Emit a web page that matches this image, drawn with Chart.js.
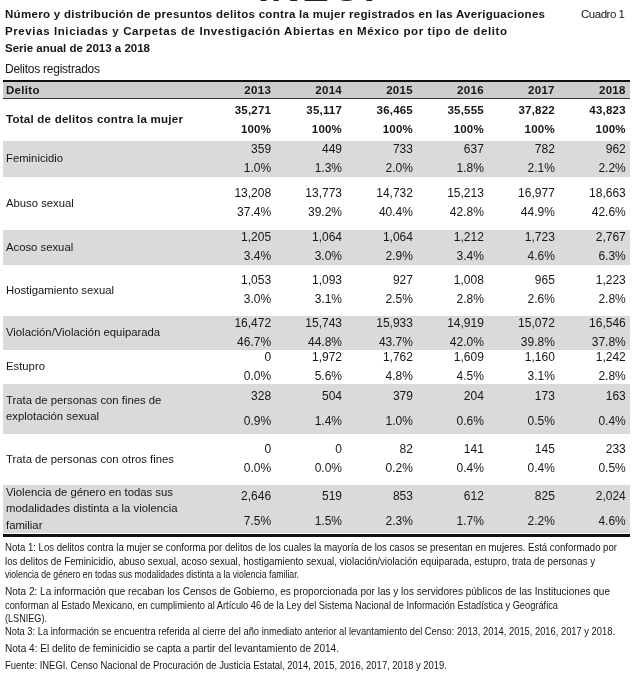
<!DOCTYPE html>
<html><head><meta charset="utf-8">
<script src="https://cdn.jsdelivr.net/npm/chart.js@4.4.1/dist/chart.umd.min.js"></script>
<style>
html,body{margin:0;padding:0;background:#fff;}
#wrap{position:relative;width:640px;height:673px;overflow:hidden;font-family:"Liberation Sans",Arial,sans-serif;color:#161616;}
#chartBox{position:absolute;left:0;top:0;width:640px;height:673px;}
.t{position:absolute;white-space:nowrap;line-height:1;}
.title{font-weight:bold;font-size:11.5px;}
.note{font-size:11px;left:5px;transform-origin:0 50%;}
#logo{left:258px;top:-33px;font-weight:bold;font-size:40px;letter-spacing:2px;color:#222;}
</style></head><body>
<div id="wrap">
<div id="chartBox"><canvas id="c"></canvas></div>
<div class="t" id="logo">INEGI</div>
<div class="t title fit" style="left:5px;top:9px" data-w="540">Número y distribución de presuntos delitos contra la mujer registrados en las Averiguaciones</div>
<div class="t fit" style="left:581px;top:9px;font-size:11.5px" data-w="44">Cuadro 1</div>
<div class="t title fit" style="left:5px;top:26px" data-w="502">Previas Iniciadas y Carpetas de Investigación Abiertas en México por tipo de delito</div>
<div class="t title fit" style="left:5px;top:43px" data-w="145">Serie anual de 2013 a 2018</div>
<div class="t fit" style="left:5px;top:63px;font-size:12px" data-w="95">Delitos registrados</div>
<div class="t note sx" style="top:542px" data-w="612">Nota 1: Los delitos contra la mujer se conforma por delitos de los cuales la mayoría de los casos se presentan en mujeres. Está conformado por</div>
<div class="t note sx" style="top:556px" data-w="590">los delitos de Feminicidio, abuso sexual, acoso sexual, hostigamiento sexual, violación/violación equiparada, estupro, trata de personas y</div>
<div class="t note sx" style="top:569px" data-w="294">violencia de género en todas sus modalidades distinta a la violencia familiar.</div>
<div class="t note sx" style="top:586px" data-w="605">Nota 2: La información que recaban los Censos de Gobierno, es proporcionada por las y los servidores públicos de las Instituciones que</div>
<div class="t note sx" style="top:600px" data-w="553">conforman al Estado Mexicano, en cumplimiento al Artículo 46 de la Ley del Sistema Nacional de Información Estadística y Geográfica</div>
<div class="t note sx" style="top:613px" data-w="42">(LSNIEG).</div>
<div class="t note sx" style="top:626px" data-w="610">Nota 3: La información se encuentra referida al cierre del año inmediato anterior al levantamiento del Censo:  2013, 2014, 2015, 2016, 2017 y 2018.</div>
<div class="t note sx" style="top:643px" data-w="334">Nota 4: El delito de feminicidio se capta a partir del levantamiento de 2014.</div>
<div class="t note sx" style="top:660px" data-w="442">Fuente: INEGI. Censo Nacional de Procuración de Justicia Estatal,  2014, 2015, 2016, 2017, 2018 y 2019.</div>
</div>
<script>
// ---- data ----
const years = ['2013', '2014', '2015', '2016', '2017', '2018'];
const categories = [
  ['Total de delitos contra la mujer'],
  ['Feminicidio'],
  ['Abuso sexual'],
  ['Acoso sexual'],
  ['Hostigamiento sexual'],
  ['Violación/Violación equiparada'],
  ['Estupro'],
  ['Trata de personas con fines de', 'explotación sexual'],
  ['Trata de personas con otros fines'],
  ['Violencia de género en todas sus', 'modalidades distinta a la violencia', 'familiar']
];
const counts2013 = [35271, 359, 13208, 1205, 1053, 16472, 0, 328, 0, 2646];
const counts2014 = [35117, 449, 13773, 1064, 1093, 15743, 1972, 504, 0, 519];
const counts2015 = [36465, 733, 14732, 1064, 927, 15933, 1762, 379, 82, 853];
const counts2016 = [35555, 637, 15213, 1212, 1008, 14919, 1609, 204, 141, 612];
const counts2017 = [37822, 782, 16977, 1723, 965, 15072, 1160, 173, 145, 825];
const counts2018 = [43823, 962, 18663, 2767, 1223, 16546, 1242, 163, 233, 2024];
const share2013 = [100, 1.0, 37.4, 3.4, 3.0, 46.7, 0.0, 0.9, 0.0, 7.5];
const share2014 = [100, 1.3, 39.2, 3.0, 3.1, 44.8, 5.6, 1.4, 0.0, 1.5];
const share2015 = [100, 2.0, 40.4, 2.9, 2.5, 43.7, 4.8, 1.0, 0.2, 2.3];
const share2016 = [100, 1.8, 42.8, 3.4, 2.8, 42.0, 4.5, 0.6, 0.4, 1.7];
const share2017 = [100, 2.1, 44.9, 4.6, 2.6, 39.8, 3.1, 0.5, 0.4, 2.2];
const share2018 = [100, 2.2, 42.6, 6.3, 2.8, 37.8, 2.8, 0.4, 0.5, 4.6];

// ---- layout (table geometry in y-scale units) ----
const headerHeight = 19;
const rowHeights = [42, 36, 53, 35, 51, 34, 34, 50, 51, 48];
const bottomRule = 4;

const countsByYear = [counts2013, counts2014, counts2015, counts2016, counts2017, counts2018];
const sharesByYear = [share2013, share2014, share2015, share2016, share2017, share2018];

const rowStart = [];
let acc = headerHeight;
rowHeights.forEach(h => { rowStart.push(acc); acc += h; });
const tableEnd = acc + bottomRule;
const rowCenter = rowHeights.map((h, i) => rowStart[i] + h / 2);

const FONT = '"Liberation Sans", Arial, sans-serif';
const TXT = '#161616';

const tablePlugin = {
  id: 'tablePlugin',
  beforeDatasetsDraw(chart) {
    const {ctx, chartArea: a, scales: {y}} = chart;
    ctx.save();
    ctx.fillStyle = '#cdcdcd';
    ctx.fillRect(a.left, y.getPixelForValue(0), a.right - a.left, y.getPixelForValue(headerHeight) - y.getPixelForValue(0));
    ctx.fillStyle = '#dadada';
    rowHeights.forEach((h, i) => {
      if (i % 2 === 1) {
        const t = y.getPixelForValue(rowStart[i]);
        const b = y.getPixelForValue(rowStart[i] + h);
        ctx.fillRect(a.left, t, a.right - a.left, b - t);
      }
    });
    ctx.fillStyle = '#111';
    ctx.fillRect(a.left, y.getPixelForValue(0), a.right - a.left, 2);
    ctx.fillStyle = '#333';
    ctx.fillRect(a.left, y.getPixelForValue(headerHeight) - 1, a.right - a.left, 1);
    ctx.fillStyle = '#111';
    ctx.fillRect(a.left, y.getPixelForValue(acc) + 1, a.right - a.left, 3);
    ctx.restore();
  },
  afterDatasetsDraw(chart) {
    const {ctx, chartArea: a, scales: {x, y}} = chart;
    ctx.save();
    ctx.fillStyle = TXT;
    ctx.textBaseline = 'middle';
    const hy = y.getPixelForValue(headerHeight / 2) + 1;
    ctx.font = 'bold 11.5px ' + FONT;
    ctx.letterSpacing = '0.3px';
    ctx.textAlign = 'left';
    ctx.fillText('Delito', a.left + 3, hy);
    ctx.textAlign = 'right';
    years.forEach((yr, j) => ctx.fillText(yr, x.getPixelForValue(j + 1), hy));
    categories.forEach((lines, i) => {
      const cy = y.getPixelForValue(rowCenter[i]);
      const lh = 16.5;
      ctx.textAlign = 'left';
      if (i === 0) { ctx.font = 'bold 11.5px ' + FONT; ctx.letterSpacing = '0.25px'; }
      else { ctx.font = '11.3px ' + FONT; ctx.letterSpacing = '0px'; }
      lines.forEach((ln, k) => {
        ctx.fillText(ln, a.left + 3, cy + (k - (lines.length - 1) / 2) * lh);
      });
    });
    chart.data.datasets.forEach((ds, j) => {
      const meta = chart.getDatasetMeta(j);
      meta.data.forEach((el, i) => {
        const multi = categories[i].length > 1;
        const s = multi ? 12.5 : 9.5;
        ctx.textAlign = 'right';
        if (i === 0) { ctx.font = 'bold 11.5px ' + FONT; ctx.letterSpacing = '0.2px'; }
        else { ctx.font = '12px ' + FONT; ctx.letterSpacing = '0px'; }
        const c = countsByYear[j][i].toLocaleString('en-US');
        const p = i === 0 ? sharesByYear[j][i] + '%' : sharesByYear[j][i].toFixed(1) + '%';
        ctx.fillText(c, el.x, el.y - s);
        ctx.fillText(p, el.x, el.y + s);
      });
    });
    ctx.restore();
  }
};

const datasets = years.map((yr, j) => ({
  label: yr,
  data: categories.map((_, i) => ({x: j + 1, y: rowCenter[i]})),
  pointRadius: 0,
  pointHoverRadius: 0,
  showLine: false
}));

new Chart(document.getElementById('c'), {
  type: 'scatter',
  data: {datasets},
  options: {
    responsive: true,
    maintainAspectRatio: false,
    animation: false,
    events: [],
    layout: {padding: {left: 3, right: 10, top: 80, bottom: 673 - 80 - tableEnd}},
    scales: {
      x: {type: 'linear', min: -2.78, max: 6.06, display: false},
      y: {type: 'linear', min: 0, max: tableEnd, reverse: true, display: false}
    },
    plugins: {legend: {display: false}, tooltip: {enabled: false}, title: {display: false}}
  },
  plugins: [tablePlugin]
});

// fit text lines to the widths they occupy in the reference
document.querySelectorAll('.fit').forEach(el => {
  const target = parseFloat(el.dataset.w);
  const w = el.getBoundingClientRect().width;
  const n = el.textContent.length - 1;
  if (n > 0) el.style.letterSpacing = ((target - w) / n).toFixed(3) + 'px';
});
document.querySelectorAll('.sx').forEach(el => {
  const target = parseFloat(el.dataset.w);
  const w = el.getBoundingClientRect().width;
  el.style.transform = 'scaleX(' + (target / w).toFixed(4) + ')';
});
</script>
</body></html>
